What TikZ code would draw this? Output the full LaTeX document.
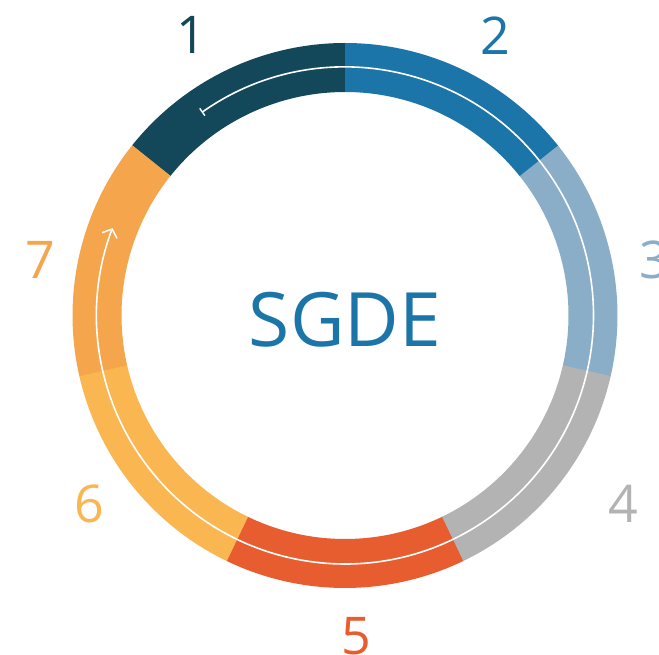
\documentclass[tikz,border=0pt]{standalone}
\usepackage{fontspec}
\setmainfont{Open Sans}
\usetikzlibrary{arrows.meta,calc}
\definecolor{cA}{HTML}{13475A}
\definecolor{cB}{HTML}{1C75A8}
\definecolor{cC}{HTML}{8AADC8}
\definecolor{cD}{HTML}{B3B3B3}
\definecolor{cE}{HTML}{E75D30}
\definecolor{cF}{HTML}{FAB651}
\definecolor{cG}{HTML}{F5A54B}
\tikzset{
  numlabel/.style={inner sep=0pt, anchor=center, font=\fontsize{52}{52}\selectfont},
  flowline/.style={white, line width=1.6pt, {Bar[width=9pt,line width=1.4pt]}-{Straight Barb[length=7pt,width=16pt,line width=1.5pt]}}
}
\newcommand{\ringseg}[3]{%
  \fill[#1] (#2:272.5) arc[start angle=#2, end angle=#3, radius=272.5]
     -- (#3:223.5) arc[start angle=#3, end angle=#2, radius=223.5] -- cycle;}
\begin{document}
\begin{tikzpicture}[x=1pt,y=1pt]
\useasboundingbox (0,0) rectangle (659,654);
\coordinate (C) at (345,338.5);
\begin{scope}[shift={(C)}]
  \ringseg{cA}{141.43}{89.9}
  \ringseg{cB}{90}{38.47}
  \ringseg{cC}{38.57}{-12.96}
  \ringseg{cD}{-12.86}{-64.39}
  \ringseg{cE}{-64.29}{-115.81}
  \ringseg{cF}{-115.71}{-167.24}
  \ringseg{cG}{-167.14}{-218.67}
  \draw[flowline] (125.2:248.5) arc[start angle=125.2, end angle=-200.6, radius=248.5];
\end{scope}
\node[font=\fontsize{75}{75}\selectfont, text=cB, inner sep=0pt] (title) at (345,334) {SGDE};
\node[numlabel, text=cA] (l1) at (191,619) {1};
\node[numlabel, text=cB] (l2) at (495,618.5) {2};
\node[numlabel, text=cC] (l3) at (654,394) {3};
\node[numlabel, text=cD] (l4) at (623,150) {4};
\node[numlabel, text=cE] (l5) at (356,18) {5};
\node[numlabel, text=cF] (l6) at (89,150) {6};
\node[numlabel, text=cG] (l7) at (40,394) {7};
\end{tikzpicture}
\end{document}
